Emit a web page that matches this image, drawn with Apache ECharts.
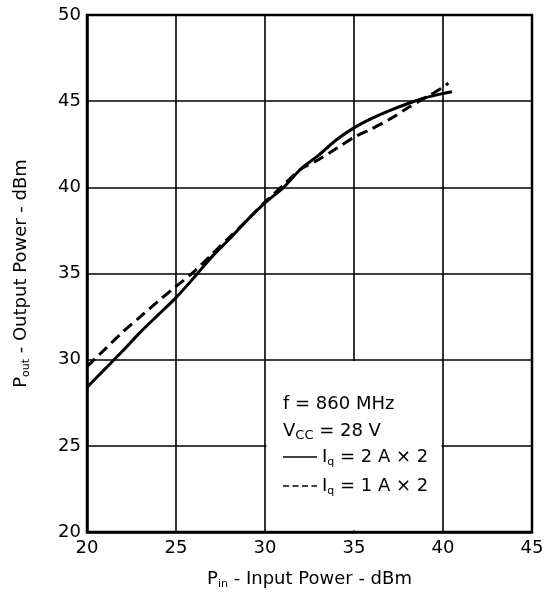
<!DOCTYPE html>
<html>
<head>
<meta charset="utf-8">
<script src="https://cdn.jsdelivr.net/npm/echarts@6/dist/echarts.min.js"></script>
<style>
  html, body { margin: 0; padding: 0; background: #fff; }
  #chart { width: 554px; height: 595px; }
</style>
</head>
<body>
<div id="chart"></div>
<script>
// Pin (dBm) sample points
var pinSolid = [20, 21, 22, 23, 24, 25, 26, 27, 28, 29, 30, 31, 32, 33, 34, 35, 36, 37, 38, 39, 40, 40.5];
var poutSolid = [28.4, 29.45, 30.5, 31.6, 32.6, 33.6, 34.75, 35.95, 37.0, 38.1, 39.1, 39.95, 41.05, 41.85, 42.75, 43.45, 44.0, 44.45, 44.85, 45.2, 45.45, 45.55];

var pinDashed = [20, 21, 22, 23, 24, 25, 26, 27, 28, 29, 30, 31, 32, 33, 34, 35, 36, 37, 38, 39, 40, 40.3];
var poutDashed = [29.6, 30.6, 31.6, 32.5, 33.4, 34.25, 35.1, 36.1, 37.1, 38.1, 39.15, 40.1, 41.05, 41.6, 42.25, 42.9, 43.4, 43.95, 44.6, 45.2, 45.8, 46.05];

var legendFreq = 'f = 860 MHz';
var legendVcc = ['V', 'CC', ' = 28 V'];
var legendSolid = ['I', 'q', ' = 2 A \u00d7 2'];
var legendDashed = ['I', 'q', ' = 1 A \u00d7 2'];

function pairs(xs, ys) {
	var out = [];
	for (var i = 0; i < xs.length; i++) {
		out.push([xs[i], ys[i]]);
	}
	return out;
}

function subText(parts) {
	return '{a|' + parts[0] + '}{s|' + parts[1] + '}{a|' + parts[2] + '}';
}

var FONT = 'DejaVu Sans';
var SIZE = 18;
var chart = echarts.init(document.getElementById('chart'));

var txt = { fontFamily: FONT, fontSize: SIZE, color: '#000', lineHeight: 22 };
var sub = { fontFamily: FONT, fontSize: 11, color: '#000', verticalAlign: 'bottom', lineHeight: 15 };
var smallCaps = { fontFamily: FONT, fontSize: 13, color: '#000', verticalAlign: 'bottom', lineHeight: 18 };

var option = {
	animation: false,
	backgroundColor: '#fff',
	grid: {
		left: 87, right: 22, top: 15, bottom: 63,
		show: true,
		borderColor: '#000',
		borderWidth: 2.5
	},
	xAxis: {
		type: 'value',
		min: 20, max: 45, interval: 5,
		name: subText(['P', 'in', ' - Input Power - dBm']),
		nameLocation: 'middle',
		nameGap: 36,
		nameTextStyle: { rich: { a: txt, s: sub } },
		axisLine: { show: true, lineStyle: { color: '#000', width: 2.5 } },
		axisTick: { show: false },
		axisLabel: { color: '#000', fontFamily: FONT, fontSize: SIZE, margin: 7 },
		splitLine: { show: true, lineStyle: { color: '#000', width: 1.6 } }
	},
	yAxis: {
		type: 'value',
		min: 20, max: 50, interval: 5,
		name: subText(['P', 'out', ' - Output Power - dBm']),
		nameLocation: 'middle',
		nameGap: 55,
		nameRotate: 90,
		nameTextStyle: { rich: { a: txt, s: sub } },
		axisLine: { show: true, lineStyle: { color: '#000', width: 2.5 } },
		axisTick: { show: false },
		axisLabel: { color: '#000', fontFamily: FONT, fontSize: SIZE, margin: 6 },
		splitLine: { show: true, lineStyle: { color: '#000', width: 1.6 } }
	},
	series: [
		{
			name: 'Iq = 2 A x 2',
			type: 'line',
			data: pairs(pinSolid, poutSolid),
			showSymbol: false,
			symbol: 'none',
			smooth: 0.3,
			lineStyle: { color: '#000', width: 3 },
			z: 3,
			markArea: {
				silent: true,
				itemStyle: { color: '#fff' },
				data: [[{ coord: [30.08, 20.1] }, { coord: [39.92, 29.92] }]]
			}
		},
		{
			name: 'Iq = 1 A x 2',
			type: 'line',
			data: pairs(pinDashed, poutDashed),
			showSymbol: false,
			symbol: 'none',
			smooth: 0.3,
			lineStyle: { color: '#000', width: 3, type: [11, 6] },
			z: 4
		}
	],
	graphic: [
		{ type: 'text', left: 283, top: 395, z: 10, style: { text: '{a|' + legendFreq + '}', rich: { a: txt } } },
		{ type: 'text', left: 283, top: 422, z: 10, style: { text: subText(legendVcc), rich: { a: txt, s: smallCaps } } },
		{ type: 'line', z: 10, shape: { x1: 283, y1: 457, x2: 317, y2: 457 }, style: { stroke: '#000', lineWidth: 1.5 } },
		{ type: 'text', left: 322, top: 448, z: 10, style: { text: subText(legendSolid), rich: { a: txt, s: sub } } },
		{ type: 'line', z: 10, shape: { x1: 283, y1: 486, x2: 317, y2: 486 }, style: { stroke: '#000', lineWidth: 1.5, lineDash: [6, 3.5] } },
		{ type: 'text', left: 322, top: 477, z: 10, style: { text: subText(legendDashed), rich: { a: txt, s: sub } } }
	]
};

chart.setOption(option);
</script>
</body>
</html>
